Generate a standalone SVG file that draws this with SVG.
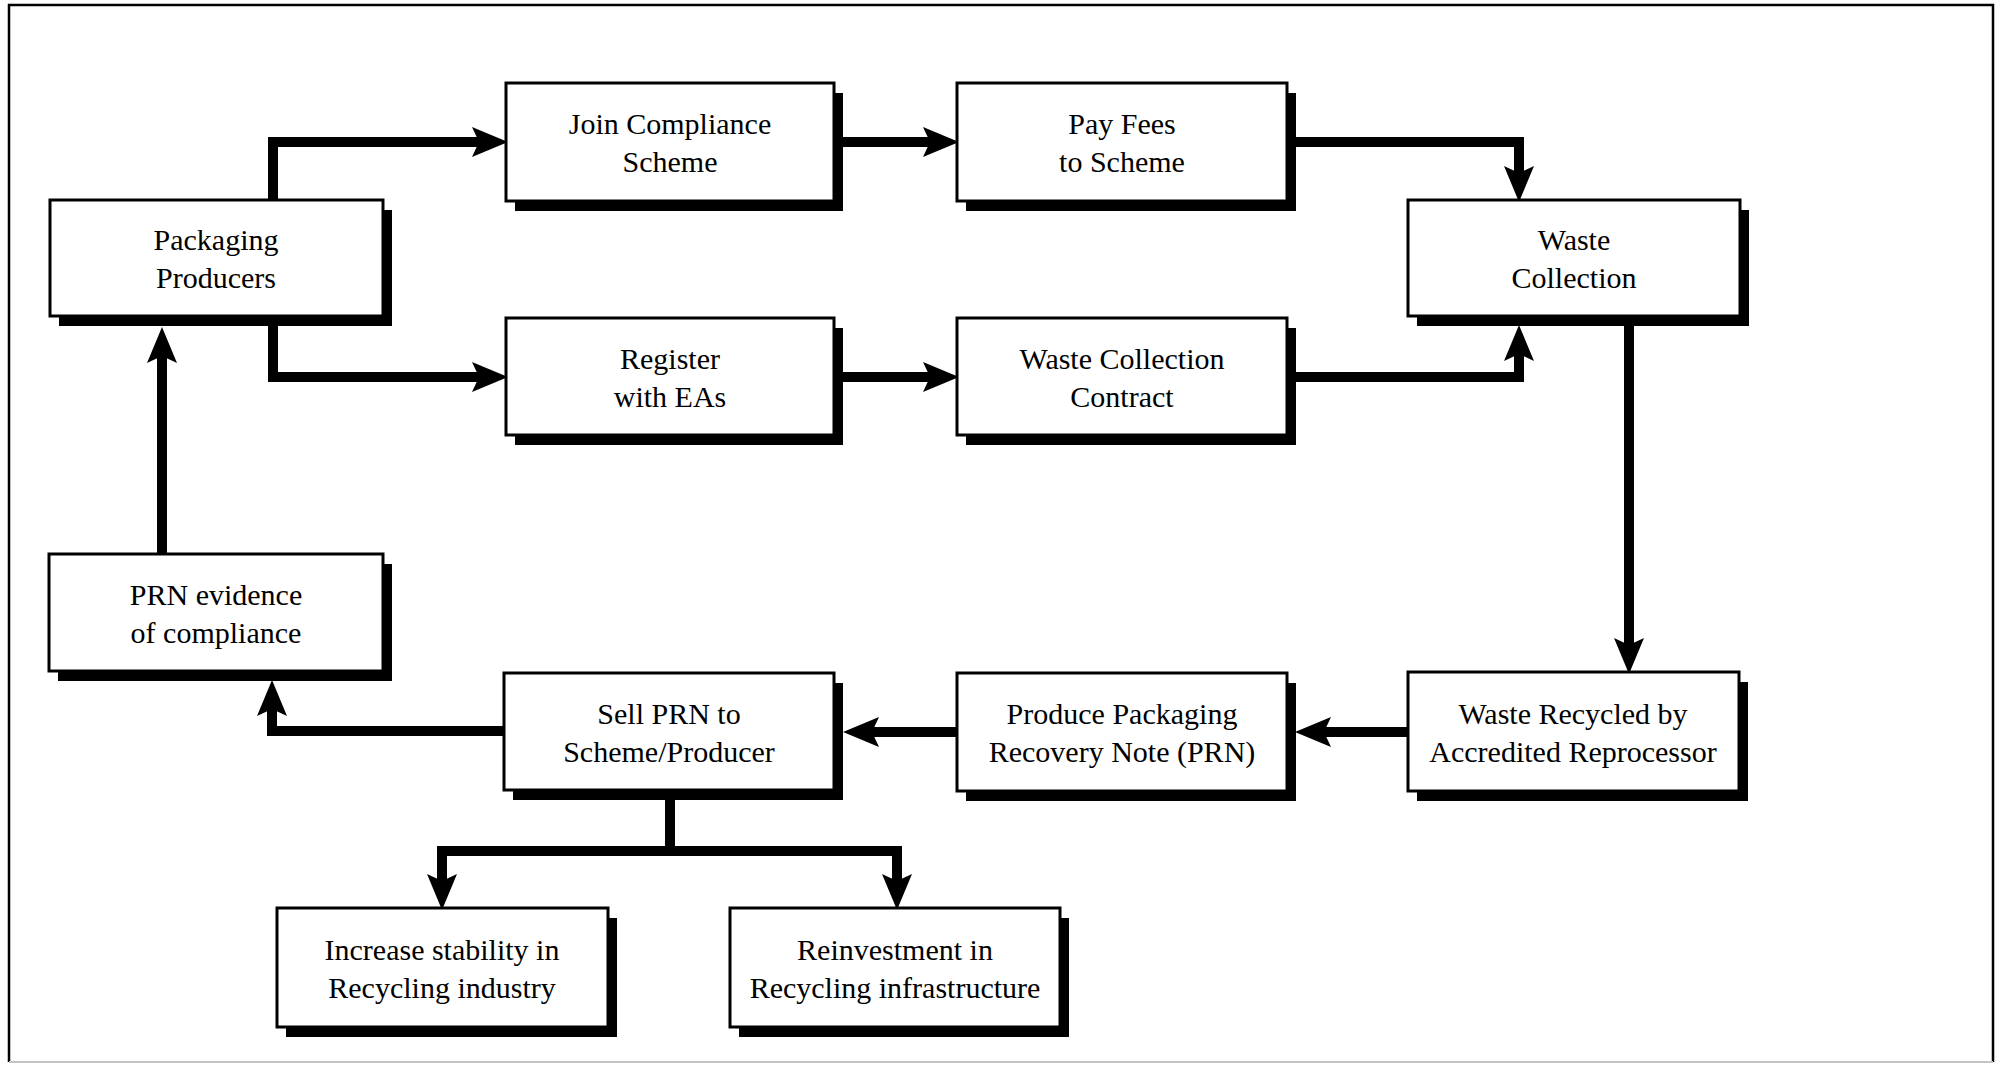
<svg xmlns="http://www.w3.org/2000/svg" width="2000" height="1066" viewBox="0 0 2000 1066">
  <style>
    .shadow { fill: #000; }
    .box { fill: #fff; stroke: #000; stroke-width: 3; }
    .label { font-family: "Liberation Serif", "Times New Roman", serif; font-size: 30px; fill: #000; text-anchor: middle; }
    .flow { fill: none; stroke: #000; stroke-width: 10; stroke-linejoin: miter; stroke-linecap: butt; }
  </style>
  <defs>
    <marker id="head" viewBox="0 -16 36 32" markerWidth="36" markerHeight="32" refX="10" refY="0" markerUnits="userSpaceOnUse" orient="auto">
      <path d="M0,-15 L36,0 L0,15 L7,0 Z" fill="#000"/>
    </marker>
  </defs>

  <rect width="2000" height="1066" fill="#fff"/>

  <!-- outer frame -->
  <g id="frame">
    <path d="M9,1062 V5 H1993 V1062" fill="none" stroke="#000" stroke-width="2.5"/>
    <line x1="9" y1="1062" x2="1993" y2="1062" stroke="#c4c4c4" stroke-width="2"/>
  </g>

  <!-- connectors -->
  <g id="connectors">
    <path class="flow" d="M273,200 V142 H482" marker-end="url(#head)"/>
    <path class="flow" d="M273,316 V377 H482" marker-end="url(#head)"/>
    <path class="flow" d="M834,142 H933" marker-end="url(#head)"/>
    <path class="flow" d="M834,377 H933" marker-end="url(#head)"/>
    <path class="flow" d="M1287,142 H1519 V176" marker-end="url(#head)"/>
    <path class="flow" d="M1287,377 H1519 V351" marker-end="url(#head)"/>
    <path class="flow" d="M1629,316 V648" marker-end="url(#head)"/>
    <path class="flow" d="M1408,732 H1321" marker-end="url(#head)"/>
    <path class="flow" d="M957,732 H869" marker-end="url(#head)"/>
    <path class="flow" d="M504,731 H272 V706" marker-end="url(#head)"/>
    <path class="flow" d="M162,554 V353" marker-end="url(#head)"/>
    <path class="flow" d="M670,790 V851 H442 V884" marker-end="url(#head)"/>
    <path class="flow" d="M665,851 H897 V884" marker-end="url(#head)"/>
  </g>

  <!-- nodes -->
  <g id="packaging-producers">
    <rect class="shadow" x="59" y="210" width="333" height="116"/>
    <rect class="box" x="50" y="200" width="333" height="116"/>
    <text class="label" x="216" y="250">Packaging</text>
    <text class="label" x="216" y="288">Producers</text>
  </g>

  <g id="join-scheme">
    <rect class="shadow" x="515" y="93" width="328" height="118"/>
    <rect class="box" x="506" y="83" width="328" height="118"/>
    <text class="label" x="670" y="134">Join Compliance</text>
    <text class="label" x="670" y="172">Scheme</text>
  </g>

  <g id="pay-fees">
    <rect class="shadow" x="966" y="93" width="330" height="118"/>
    <rect class="box" x="957" y="83" width="330" height="118"/>
    <text class="label" x="1122" y="134">Pay Fees</text>
    <text class="label" x="1122" y="172">to Scheme</text>
  </g>

  <g id="waste-collection">
    <rect class="shadow" x="1417" y="210" width="332" height="116"/>
    <rect class="box" x="1408" y="200" width="332" height="116"/>
    <text class="label" x="1574" y="250">Waste</text>
    <text class="label" x="1574" y="288">Collection</text>
  </g>

  <g id="register-eas">
    <rect class="shadow" x="515" y="328" width="328" height="117"/>
    <rect class="box" x="506" y="318" width="328" height="117"/>
    <text class="label" x="670" y="369">Register</text>
    <text class="label" x="670" y="407">with EAs</text>
  </g>

  <g id="collection-contract">
    <rect class="shadow" x="966" y="328" width="330" height="117"/>
    <rect class="box" x="957" y="318" width="330" height="117"/>
    <text class="label" x="1122" y="369">Waste Collection</text>
    <text class="label" x="1122" y="407">Contract</text>
  </g>

  <g id="prn-evidence">
    <rect class="shadow" x="58" y="564" width="334" height="117"/>
    <rect class="box" x="49" y="554" width="334" height="117"/>
    <text class="label" x="216" y="605">PRN evidence</text>
    <text class="label" x="216" y="643">of compliance</text>
  </g>

  <g id="sell-prn">
    <rect class="shadow" x="513" y="683" width="330" height="117"/>
    <rect class="box" x="504" y="673" width="330" height="117"/>
    <text class="label" x="669" y="724">Sell PRN to</text>
    <text class="label" x="669" y="762">Scheme/Producer</text>
  </g>

  <g id="produce-prn">
    <rect class="shadow" x="966" y="683" width="330" height="118"/>
    <rect class="box" x="957" y="673" width="330" height="118"/>
    <text class="label" x="1122" y="724">Produce Packaging</text>
    <text class="label" x="1122" y="762">Recovery Note (PRN)</text>
  </g>

  <g id="waste-recycled">
    <rect class="shadow" x="1417" y="682" width="331" height="119"/>
    <rect class="box" x="1408" y="672" width="331" height="119"/>
    <text class="label" x="1573" y="724">Waste Recycled by</text>
    <text class="label" x="1573" y="762">Accredited Reprocessor</text>
  </g>

  <g id="increase-stability">
    <rect class="shadow" x="286" y="918" width="331" height="119"/>
    <rect class="box" x="277" y="908" width="331" height="119"/>
    <text class="label" x="442" y="960">Increase stability in</text>
    <text class="label" x="442" y="998">Recycling industry</text>
  </g>

  <g id="reinvestment">
    <rect class="shadow" x="739" y="918" width="330" height="119"/>
    <rect class="box" x="730" y="908" width="330" height="119"/>
    <text class="label" x="895" y="960">Reinvestment in</text>
    <text class="label" x="895" y="998">Recycling infrastructure</text>
  </g>
</svg>
